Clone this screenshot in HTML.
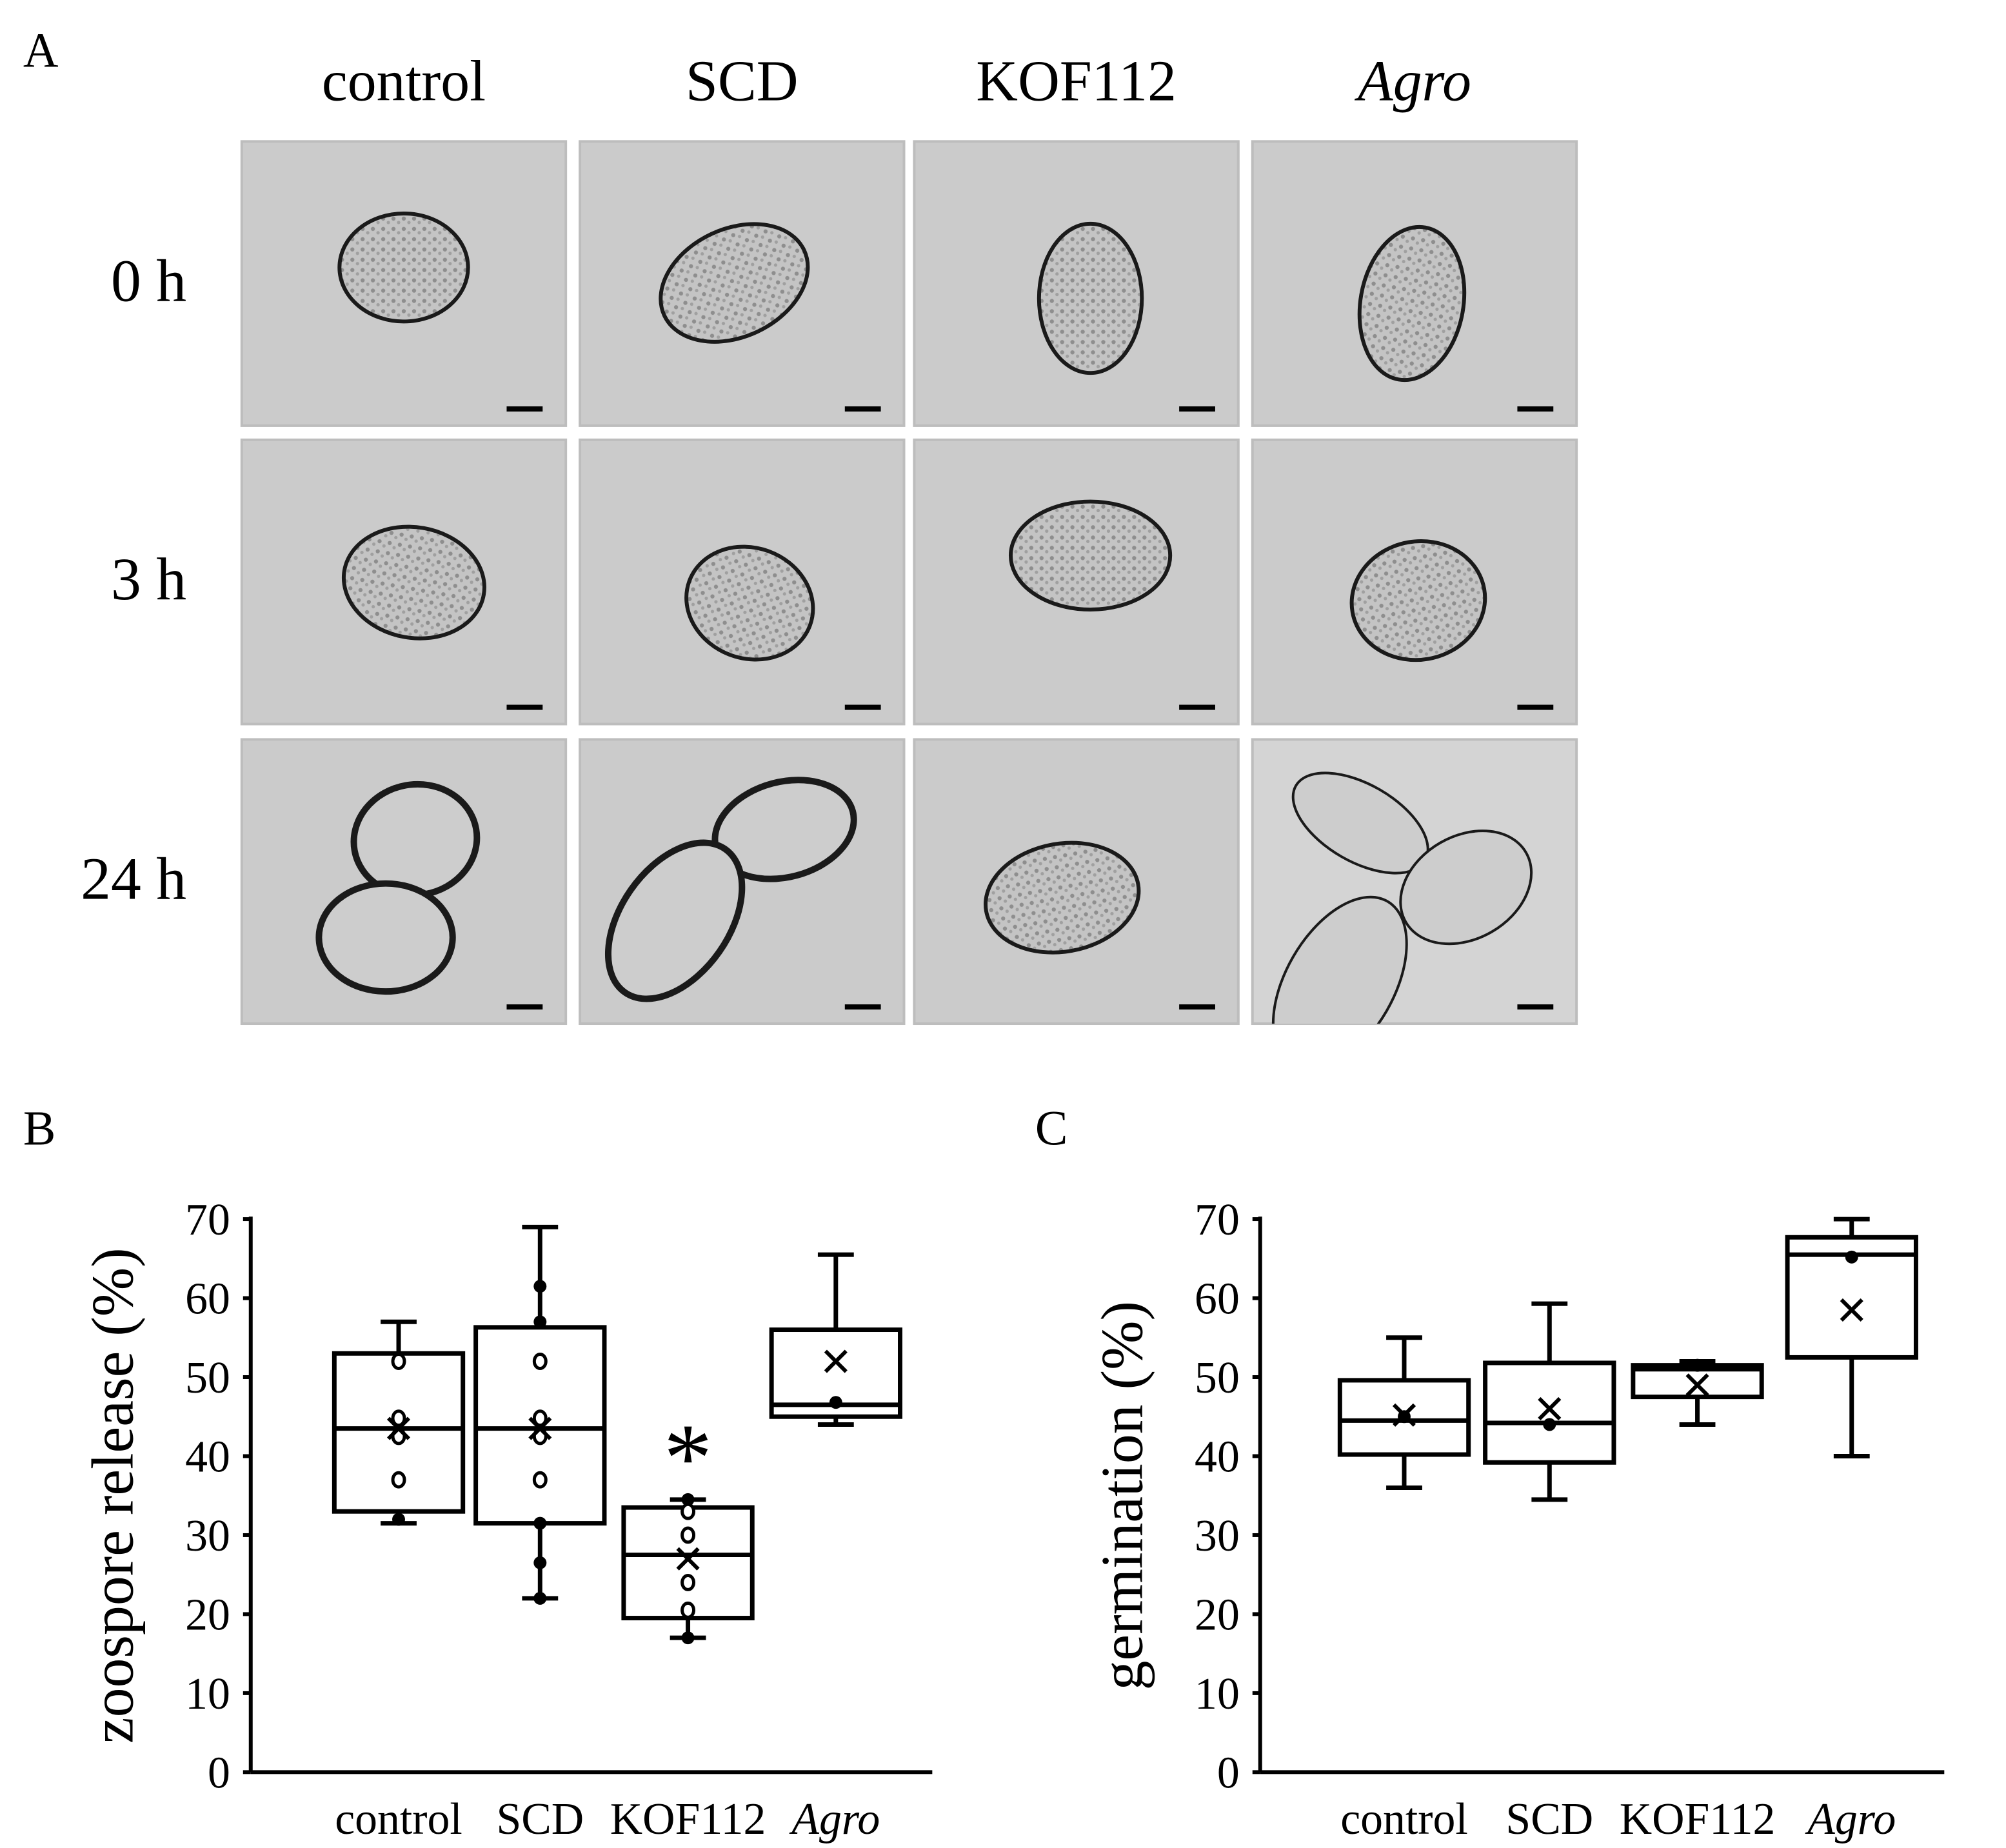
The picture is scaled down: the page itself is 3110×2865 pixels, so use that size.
<!DOCTYPE html>
<html><head><meta charset="utf-8"><style>
html,body{margin:0;padding:0;background:#fff}
svg{display:block}
text{font-family:"Liberation Serif",serif;fill:#000}
</style></head><body>
<svg id="fig" width="3110" height="2865" viewBox="0 0 1560 1437" preserveAspectRatio="none" xmlns="http://www.w3.org/2000/svg">
<defs>
<pattern id="speck" width="8" height="8" patternUnits="userSpaceOnUse">
<rect width="8" height="8" fill="#c4c4c4"/><circle cx="2" cy="2" r="1.6" fill="#8e8e8e"/><circle cx="6" cy="5" r="1.3" fill="#a0a0a0"/>
</pattern>
</defs>
<text x="18" y="52" font-size="38">A</text>
<g id="micro"></g>
<text x="18" y="890" font-size="38">B</text>
<text x="805" y="890" font-size="38">C</text>
<g id="chartB"></g>
<g id="chartC"></g>
</svg>
<script>
const NS="http://www.w3.org/2000/svg";
function mk(tag,attrs,parent,txt){const e=document.createElementNS(NS,tag);for(const k in attrs)e.setAttribute(k,attrs[k]);if(txt!==undefined)e.textContent=txt;parent.appendChild(e);return e;}

// Micrographs
const colNames=["control","SCD","KOF112","Agro"];
const rowNames=["0 h","3 h","24 h"];
const colX=[188,451,711,974];
const rowY=[110,342,575];
const micro=document.getElementById('micro');
const defs=document.querySelector('defs');
colNames.forEach((c,i)=>{
  const t=mk('text',{x:colX[i]+126,y:78,'font-size':45,'text-anchor':'middle','font-style':i===3?'italic':'normal'},micro,c);
  
  
});
rowNames.forEach((r,j)=>{
  const t=mk('text',{x:145,y:rowY[j]+124,'font-size':47,'text-anchor':'end'},micro,r);
  
  
});
const cells=[
 [[[314,208,50,42,0,1]],[[571,220,60,42,-25,1]],[[848,232,40,58,0,1]],[[1098,236,40,60,10,1]]],
 [[[322,453,55,43,10,1]],[[583,469,50,43,20,1]],[[848,432,62,42,0,1]],[[1103,467,52,46,-10,1]]],
 [[[323,653,48,43,-10,0],[300,729,52,42,0,0]],[[610,645,55,37,-15,0],[525,716,68,42,-55,0]],[[826,698,60,42,-10,1]],[[1058,640,58,30,30,0],[1140,690,54,40,-30,0],[1042,765,74,42,-60,0]]]
];
rowY.forEach((y,j)=>colX.forEach((x,i)=>{
  const cid='clip'+i+'_'+j;
  const cp=mk('clipPath',{id:cid},defs);
  mk('rect',{x:x,y:y,width:252,height:221},cp);
  const g=mk('g',{},micro);
  
  
  mk('rect',{x:x,y:y,width:252,height:221,fill:(i===3&&j===2)?'#d4d4d4':'#cbcbcb',stroke:'#bdbdbd','stroke-width':2},g);
  const gc=mk('g',{'clip-path':`url(#${cid})`},g);
  cells[j][i].forEach(e=>{
    mk('ellipse',{cx:e[0],cy:e[1],rx:e[2],ry:e[3],transform:`rotate(${e[4]} ${e[0]} ${e[1]})`,fill:e[5]?'url(#speck)':'#cdcdcd',stroke:'#1a1a1a','stroke-width':e[5]?3:(i===3?2:5)},gc);
  });
  mk('rect',{x:x+206,y:y+206,width:28,height:4,fill:'#000'},g);
}));

// Chart data
const cats=["control","SCD","KOF112","Agro"];
const yTicks=[0,10,20,30,40,50,60,70];
const bWhiskLo=[31.5,22,17,44];
const bWhiskHi=[57,69,34.5,65.5];
const bQ1=[33,31.5,19.5,45];
const bQ3=[53,56.3,33.5,56];
const bMed=[43.5,43.5,27.5,46.5];
const bMean=[43.5,43.5,27,52];
const bFilled=[[32],[61.5,57,31.5,26.5,22],[34.5,17],[46.8]];
const bOpen=[[52,44.8,42.5,37],[52,44.8,42.5,37],[33,30,24,20.5],[]];
const bStar=[null,null,41.5,null];
const cWhiskLo=[36,34.5,44,40];
const cWhiskHi=[55,59.3,52,70];
const cQ1=[40.2,39.2,47.5,52.5];
const cQ3=[49.6,51.8,51.5,67.7];
const cMed=[44.5,44.2,51,65.5];
const cMean=[45.2,46,49,58.5];
const cFilled=[[45],[44],[51.5],[65.2]];
const cOpen=[[],[],[],[]];

function drawChart(id,ax,catX,ylabel,d){
  const root=document.getElementById(id);
  const y0=1378,yTop=948,ymax=70;
  const Y=v=>y0-(v/ymax)*(y0-yTop);
  const X=i=>catX[i];
  const bw=50;
  mk('line',{x1:ax.x0,y1:yTop-2,x2:ax.x0,y2:y0,stroke:'#000','stroke-width':3},root);
  mk('line',{x1:ax.x0,y1:y0,x2:ax.x1,y2:y0,stroke:'#000','stroke-width':3},root);
  yTicks.forEach(v=>{
    const l=mk('line',{x1:ax.x0-6,y1:Y(v),x2:ax.x0,y2:Y(v),stroke:'#000','stroke-width':3},root);
    
    
    const t=mk('text',{x:ax.x0-16,y:Y(v)+12,'font-size':35,'text-anchor':'end'},root,String(v));
    
    
  });
  const yl=mk('text',{x:0,y:0,'font-size':46,'text-anchor':'middle',transform:`translate(${ax.x0-92},${(y0+yTop)/2}) rotate(-90)`},root,ylabel);
  
  
  cats.forEach((c,i)=>{
    const t=mk('text',{x:X(i),y:1426,'font-size':35,'text-anchor':'middle','font-style':i===3?'italic':'normal'},root,c);
    
    
    const g=mk('g',{stroke:'#000','stroke-width':3.5,fill:'none'},root);
    
    
    const x=X(i);
    mk('line',{x1:x,y1:Y(d.hi[i]),x2:x,y2:Y(d.q3[i])},g);
    mk('line',{x1:x,y1:Y(d.lo[i]),x2:x,y2:Y(d.q1[i])},g);
    mk('line',{x1:x-14,y1:Y(d.hi[i]),x2:x+14,y2:Y(d.hi[i])},g);
    mk('line',{x1:x-14,y1:Y(d.lo[i]),x2:x+14,y2:Y(d.lo[i])},g);
    mk('rect',{x:x-bw,y:Y(d.q3[i]),width:2*bw,height:Y(d.q1[i])-Y(d.q3[i])},g);
    mk('line',{x1:x-bw,y1:Y(d.med[i]),x2:x+bw,y2:Y(d.med[i])},g);
    d.filled[i].forEach(v=>{const p=mk('circle',{cx:x,cy:Y(v),r:5,fill:'#000',stroke:'none'},g);});
    d.open[i].forEach(v=>{const p=mk('ellipse',{cx:x,cy:Y(v),rx:4.5,ry:5.5,fill:'#fff','stroke-width':2.5},g);});
    const m=Y(d.mean[i]);
    const mm=mk('path',{d:`M${x-8} ${m-8}L${x+8} ${m+8}M${x+8} ${m-8}L${x-8} ${m+8}`,'stroke-width':3},g);
    
    if(d.star&&d.star[i]!=null){
      const s=mk('text',{x:x,y:Y(d.star[i])+36,'font-size':76,'text-anchor':'middle','font-family':'Liberation Sans, sans-serif'},root,'*');
      
      
    }
  });
}
drawChart('chartB',{x0:195,x1:725},[310,420,535,650],'zoospore release (%)',
 {lo:bWhiskLo,hi:bWhiskHi,q1:bQ1,q3:bQ3,med:bMed,mean:bMean,filled:bFilled,open:bOpen,star:bStar});
drawChart('chartC',{x0:980,x1:1512},[1092,1205,1320,1440],'germination (%)',
 {lo:cWhiskLo,hi:cWhiskHi,q1:cQ1,q3:cQ3,med:cMed,mean:cMean,filled:cFilled,open:cOpen,star:null});
</script>
</body></html>
